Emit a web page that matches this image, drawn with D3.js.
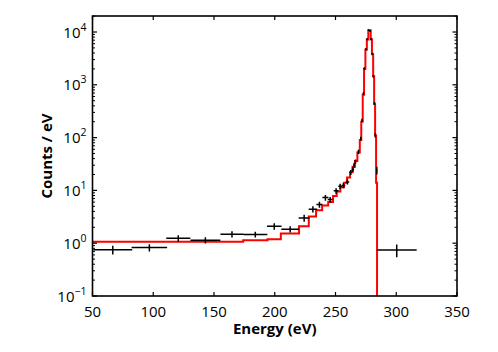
<!DOCTYPE html>
<html>
<head>
<meta charset="utf-8">
<script src="https://cdn.jsdelivr.net/npm/d3@7"></script>
<style>
  body { margin: 0; background: #fff; }
  text { font-family: "Open Sans", sans-serif; fill: #000; }
</style>
</head>
<body>
<div id="chart"></div>
<script>
// measured spectrum: bin centres, half widths, counts / eV and errors
const energy    = [66.7, 96.8, 120.6, 142.9, 164.8, 184, 199.6, 212.7, 224.2, 231.4, 236.8, 241.7, 245.6, 250.5, 253.8, 256.5, 259.8, 262.6, 264.3, 265.3, 266.4, 268.9, 270.8, 271.9, 273.0, 273.8, 275.0, 276.1, 277.2, 278.4, 279.2, 280.4, 281.2, 282.0, 282.8, 284.0, 300.4]
const energyErr = [16, 14.6, 9.9, 12.3, 9.5, 9.9, 6, 7.3, 4.5, 3.5, 2.5, 2.5, 2, 2, 1.5, 1.5, 1.5, 1, 1, 0.7, 0.7, 0.6, 0.5, 0.5, 0.5, 0.5, 0.5, 0.5, 0.5, 0.5, 0.5, 0.5, 0.5, 0.5, 0.5, 0.5, 16.4]
const counts    = [0.75, 0.83, 1.24, 1.14, 1.48, 1.46, 2.1, 1.84, 3.0, 4.4, 5.4, 7.3, 6.7, 9.8, 12, 12.4, 14.5, 22, 25, 30, 35, 54, 96, 213, 684, 2040, 4700, 7300, 10800, 10500, 7300, 3850, 1450, 443, 111, 24, 0.74]
const countsErr = [0.14, 0.13, 0.18, 0.15, 0.2, 0.18, 0.3, 0.25, 0.45, 0.6, 0.7, 0.9, 0.8, 1.2, 1.4, 1.4, 1.6, 2.4, 2.6, 3, 3.5, 5, 8, 15, 40, 100, 200, 300, 400, 400, 300, 180, 80, 30, 10, 4, 0.2]

// model: bin edges and value in each bin
const modelEdges  = [50, 174, 194, 205, 220, 228, 234, 239, 244, 248, 251, 254, 257, 259.5, 262, 264, 266, 268, 270, 271.2, 272.4, 273.5, 274.6, 275.8, 277, 279, 280, 281, 281.8, 282.6, 283.4, 284.2]
const modelValues = [1.06, 1.14, 1.19, 1.53, 2.1, 3.2, 4.2, 5.2, 6.0, 7.8, 9.5, 11.5, 14, 17.5, 22, 28, 36, 52, 90, 200, 650, 2000, 4600, 7200, 10800, 7300, 3800, 1450, 440, 110, 14]

const xTicks = [50, 100, 150, 200, 250, 300, 350]
const yTicks = [0.1, 1, 10, 100, 1000, 10000]
const yTickExp = ["\u22121", "0", "1", "2", "3", "4"]

const width = 498
const height = 352
const margin = { left: 92.5, right: 41, top: 16, bottom: 56 }

const svg = d3.select('#chart').append('svg')
  .attr('width', width)
  .attr('height', height)

const xScale = d3.scaleLinear()
  .domain([50, 350])
  .range([margin.left, width - margin.right])

const yScale = d3.scaleLog()
  .domain([0.1, 2.01e4])
  .range([height - margin.bottom, margin.top])

svg.append('clipPath').attr('id', 'clip')
  .append('rect')
  .attr('x', margin.left).attr('y', margin.top)
  .attr('width', xScale.range()[1] - margin.left)
  .attr('height', yScale.range()[0] - margin.top)

const plot = svg.append('g').attr('clip-path', 'url(#clip)')

// model as a step line
const modelPts = modelEdges.map((e, i) => [e, modelValues[Math.min(i, modelValues.length - 1)]])
modelPts.push([modelEdges[modelEdges.length - 1], 1e-3])

plot.append('path')
  .datum(modelPts)
  .attr('fill', 'none')
  .attr('stroke', '#ff0000')
  .attr('stroke-width', 2)
  .attr('d', d3.line().x(d => xScale(d[0])).y(d => yScale(d[1])).curve(d3.curveStepAfter))

// data crosses
const points = energy.map((e, i) => ({ x: e, dx: energyErr[i], y: counts[i], dy: countsErr[i] }))
const cross = plot.selectAll('g.pt').data(points).join('g').attr('class', 'pt')
cross.append('line')
  .attr('x1', d => xScale(d.x - d.dx)).attr('x2', d => xScale(d.x + d.dx))
  .attr('y1', d => yScale(d.y)).attr('y2', d => yScale(d.y))
  .attr('stroke', '#000').attr('stroke-width', 1.5)
cross.append('line')
  .attr('x1', d => xScale(d.x)).attr('x2', d => xScale(d.x))
  .attr('y1', d => yScale(d.y - d.dy)).attr('y2', d => yScale(d.y + d.dy))
  .attr('stroke', '#000').attr('stroke-width', 1.5)

// axes: inward ticks on all four sides
const [x0, x1] = xScale.range()
const [y0, y1] = yScale.range()
const axes = svg.append('g').attr('stroke', '#000')

axes.selectAll('line.xt').data(xTicks).join('line')
  .attr('x1', d => xScale(d)).attr('x2', d => xScale(d))
  .attr('y1', y0).attr('y2', y0 - 4).attr('stroke-width', 1.2)
axes.selectAll('line.xtt').data(xTicks).join('line')
  .attr('x1', d => xScale(d)).attr('x2', d => xScale(d))
  .attr('y1', y1).attr('y2', y1 + 4).attr('stroke-width', 1.2)

const minor = yScale.ticks().filter(t => yTicks.indexOf(t) < 0)
axes.selectAll('line.ym').data(minor).join('line')
  .attr('x1', x0).attr('x2', x0 + 2.5)
  .attr('y1', d => yScale(d)).attr('y2', d => yScale(d)).attr('stroke-width', 1)
axes.selectAll('line.ymr').data(minor).join('line')
  .attr('x1', x1).attr('x2', x1 - 2.5)
  .attr('y1', d => yScale(d)).attr('y2', d => yScale(d)).attr('stroke-width', 1)
axes.selectAll('line.yt').data(yTicks).join('line')
  .attr('x1', x0).attr('x2', x0 + 4.5)
  .attr('y1', d => yScale(d)).attr('y2', d => yScale(d)).attr('stroke-width', 1.2)
axes.selectAll('line.ytr').data(yTicks).join('line')
  .attr('x1', x1).attr('x2', x1 - 4.5)
  .attr('y1', d => yScale(d)).attr('y2', d => yScale(d)).attr('stroke-width', 1.2)

svg.append('rect')
  .attr('x', x0).attr('y', y1)
  .attr('width', x1 - x0).attr('height', y0 - y1)
  .attr('fill', 'none').attr('stroke', '#000').attr('stroke-width', 1.6)

// tick labels
svg.selectAll('text.xl').data(xTicks).join('text')
  .attr('x', d => xScale(d)).attr('y', y0 + 21)
  .attr('text-anchor', 'middle').attr('font-size', 15)
  .text(d => d)

const yl = svg.selectAll('text.yl').data(yTicks).join('text')
  .attr('x', x0 - 6).attr('y', d => yScale(d) + 5.5)
  .attr('text-anchor', 'end').attr('font-size', 15)
yl.append('tspan').text('10')
yl.append('tspan').attr('dy', -7).attr('font-size', 10.5).text((d, i) => yTickExp[i])

// axis titles
svg.append('text')
  .attr('x', (x0 + x1) / 2).attr('y', 334)
  .attr('text-anchor', 'middle').attr('font-size', 15).attr('font-weight', 'bold')
  .text('Energy (eV)')
svg.append('text')
  .attr('transform', `translate(52 ${(y0 + y1) / 2}) rotate(-90)`)
  .attr('text-anchor', 'middle').attr('font-size', 15).attr('font-weight', 'bold')
  .text('Counts / eV')
</script>
</body>
</html>
